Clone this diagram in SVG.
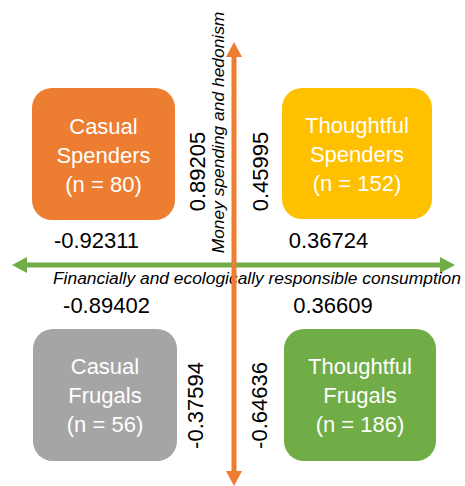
<svg xmlns="http://www.w3.org/2000/svg" width="465" height="486" viewBox="0 0 465 486">
<style>
.box-t{font-family:"Liberation Sans",Arial,sans-serif;font-size:22px;fill:#ffffff;text-anchor:middle}
.num{font-family:"Liberation Sans",Arial,sans-serif;font-size:22px;fill:#000000;text-anchor:middle}
.ax{font-family:"Liberation Sans",Arial,sans-serif;font-size:17.4px;font-style:italic;fill:#000000}
</style>
<defs>
<marker id="ahO" markerUnits="userSpaceOnUse" markerWidth="16" markerHeight="18" viewBox="0 -9 16 18" refX="0" refY="0" orient="auto-start-reverse"><path d="M0,-8 L15,0 L0,8 z" fill="#ED7D31"/></marker>
<marker id="ahG" markerUnits="userSpaceOnUse" markerWidth="16" markerHeight="18" viewBox="0 -9 16 18" refX="0" refY="0" orient="auto-start-reverse"><path d="M0,-8 L15,0 L0,8 z" fill="#70AD47"/></marker>
</defs>
<rect width="465" height="486" fill="#ffffff"/>
<g id="node-casual-spenders">
<rect x="32" y="88" width="143" height="132" rx="20" fill="#ED7D31"/>
<text class="box-t" x="103.5" y="134">Casual</text>
<text class="box-t" x="103.5" y="163">Spenders</text>
<text class="box-t" x="103.5" y="192">(n = 80)</text>
</g>
<g id="node-thoughtful-spenders">
<rect x="282" y="88" width="150" height="131" rx="20" fill="#FFC000"/>
<text class="box-t" x="357" y="133">Thoughtful</text>
<text class="box-t" x="357" y="162">Spenders</text>
<text class="box-t" x="357" y="191">(n = 152)</text>
</g>
<g id="node-casual-frugals">
<rect x="33" y="329" width="144" height="132" rx="20" fill="#A5A5A5"/>
<text class="box-t" x="105" y="374">Casual</text>
<text class="box-t" x="105" y="403">Frugals</text>
<text class="box-t" x="105" y="432">(n = 56)</text>
</g>
<g id="node-thoughtful-frugals">
<rect x="284" y="329" width="152" height="132" rx="20" fill="#70AD47"/>
<text class="box-t" x="360" y="374">Thoughtful</text>
<text class="box-t" x="360" y="403">Frugals</text>
<text class="box-t" x="360" y="432">(n = 186)</text>
</g>
<g id="labels">
<text class="num" x="96.5" y="248">-0.92311</text>
<text class="num" x="328.5" y="248">0.36724</text>
<text class="num" x="106.5" y="313">-0.89402</text>
<text class="num" x="333" y="313">0.36609</text>
<text class="num" transform="translate(205,171.5) rotate(-90)">0.89205</text>
<text class="num" transform="translate(268,171.5) rotate(-90)">0.45995</text>
<text class="num" transform="translate(203,405.5) rotate(-90)">-0.37594</text>
<text class="num" transform="translate(267,405.5) rotate(-90)">-0.64636</text>
</g>
<g id="connectors">
<path d="M27,265 L440,265" stroke="#70AD47" stroke-width="5" fill="none" marker-start="url(#ahG)" marker-end="url(#ahG)"/>
<text class="ax" x="53" y="284">Financially and ecologically responsible consumption</text>
<text class="ax" transform="translate(224,132.5) rotate(-90)" text-anchor="middle">Money spending and hedonism</text>
<path d="M234,57 L234,471" stroke="#ED7D31" stroke-width="5" fill="none" marker-start="url(#ahO)" marker-end="url(#ahO)"/>
</g>
</svg>
